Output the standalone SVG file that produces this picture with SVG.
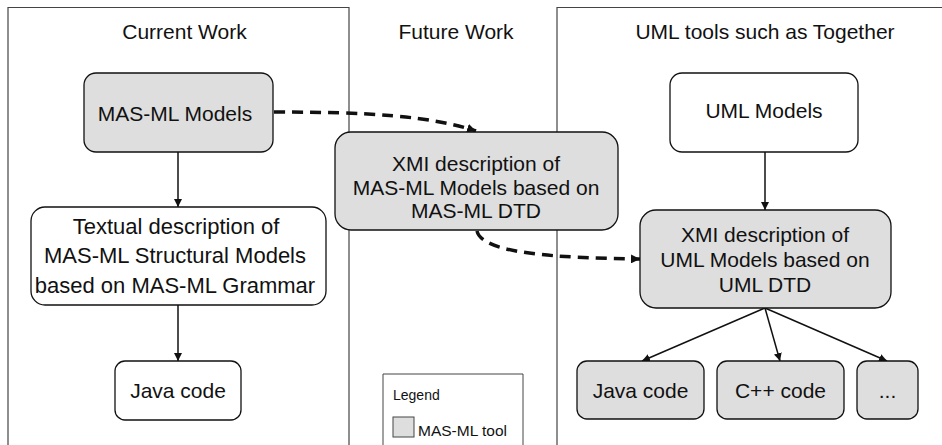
<svg xmlns="http://www.w3.org/2000/svg" width="942" height="445" viewBox="0 0 942 445">
<style>
text{font-family:"Liberation Sans",Arial,sans-serif;fill:#111;}
.t{font-size:21px;text-anchor:middle;}
.t2{font-size:22px;text-anchor:middle;}
.box{stroke:#111;stroke-width:1.3;}
.g{fill:#dedede;}
.w{fill:#fff;}
.frame{fill:none;stroke:#444;stroke-width:1.2;}
.arr{fill:none;stroke:#111;stroke-width:1.5;marker-end:url(#ah);}
.dash{fill:none;stroke:#111;stroke-width:3.5;stroke-dasharray:11 7;marker-end:url(#ah2);}
</style>
<defs>
<marker id="ah" viewBox="0 0 10 10" refX="10" refY="5" markerWidth="8" markerHeight="8" markerUnits="userSpaceOnUse" orient="auto"><path d="M0,0 L10,5 L0,10 z" fill="#111"/></marker>
<marker id="ah2" viewBox="0 0 10 10" refX="10" refY="5" markerWidth="9" markerHeight="9" markerUnits="userSpaceOnUse" orient="auto"><path d="M0,0 L10,5 L0,10 z" fill="#111"/></marker>
</defs>
<rect width="942" height="445" fill="#fff"/>
<g id="panels">
<path class="frame" d="M8,445 V7.5 H349 V445"/>
<path class="frame" d="M557,445 V7.5 H942"/>
<text x="184.5" y="39" class="t">Current Work</text>
<text x="456" y="39" class="t">Future Work</text>
<text x="765" y="39" class="t">UML tools such as Together</text>
</g>
<g id="connectors">
<path class="arr" d="M178,152 V207"/>
<path class="arr" d="M178,305 V361"/>
<path class="arr" d="M765,152 L765,210"/>
<path class="arr" d="M765,308 L642,361"/>
<path class="arr" d="M765,308 L780,361"/>
<path class="arr" d="M765,308 L887,361"/>
<path class="dash" d="M274,112 C370,112 430,116 476,131"/>
<path class="dash" d="M477,231 C482,254 560,258 640,259"/>
</g>
<g id="masml-models">
<rect class="box g" x="84" y="73" width="189" height="79" rx="12"/>
<text x="175" y="121" class="t">MAS-ML Models</text>
</g>
<g id="textual">
<rect class="box w" x="31" y="207" width="295" height="98" rx="14"/>
<text x="176" y="234" class="t2">Textual description of</text>
<text x="175" y="263" class="t2">MAS-ML Structural Models</text>
<text x="175" y="293" class="t2">based on MAS-ML Grammar</text>
</g>
<g id="java-left">
<rect class="box w" x="115" y="361" width="126" height="59" rx="10"/>
<text x="178" y="398" class="t">Java code</text>
</g>
<g id="xmi-masml">
<rect class="box g" x="335" y="132" width="283" height="98" rx="16"/>
<text x="476" y="171" class="t">XMI description of</text>
<text x="476" y="195" class="t">MAS-ML Models based on</text>
<text x="476" y="218" class="t">MAS-ML DTD</text>
</g>
<g id="uml-models">
<rect class="box w" x="670" y="73" width="188" height="79" rx="12"/>
<text x="764" y="118" class="t">UML Models</text>
</g>
<g id="xmi-uml">
<rect class="box g" x="640" y="210" width="251" height="98" rx="16"/>
<text x="765" y="242" class="t">XMI description of</text>
<text x="765" y="267" class="t">UML Models based on</text>
<text x="765" y="292" class="t">UML DTD</text>
</g>
<g id="java-right">
<rect class="box g" x="577" y="361" width="127" height="58" rx="10"/>
<text x="640.5" y="398" class="t">Java code</text>
</g>
<g id="cpp">
<rect class="box g" x="717" y="361" width="127" height="58" rx="10"/>
<text x="780.5" y="398" class="t">C++ code</text>
</g>
<g id="more">
<rect class="box g" x="857" y="361" width="61" height="58" rx="10"/>
<text x="887.5" y="398" class="t">...</text>
</g>
<g id="legend">
<path d="M383,445 V374 H523 V445" fill="#fff" stroke="#444" stroke-width="1"/>
<text x="393" y="400" style="font-size:14px">Legend</text>
<rect x="393" y="417" width="21" height="20" fill="#dedede" stroke="#444" stroke-width="1"/>
<text x="418" y="436" style="font-size:15.5px">MAS-ML tool</text>
</g>
</svg>
